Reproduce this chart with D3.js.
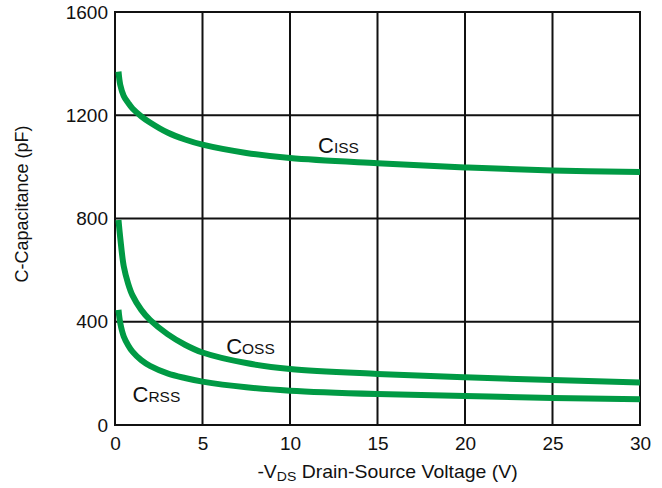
<!DOCTYPE html>
<html>
<head>
<meta charset="utf-8">
<script src="https://cdn.jsdelivr.net/npm/d3@7"></script>
<style>
  body { margin: 0; background: #fff; }
  svg text { font-family: "Liberation Sans", Arial, sans-serif; fill: #111; }
</style>
</head>
<body>
<div id="chart"></div>
<script>
// Voltage samples (V)
var VDS = [0.2, 0.3, 0.5, 0.75, 1, 1.5, 2, 3, 4, 5, 7.5, 10, 15, 20, 25, 30];
// Capacitances (pF)
var CISS = [1369, 1318, 1275, 1248, 1226, 1196, 1172, 1133, 1106, 1086, 1054, 1034, 1014, 998, 986, 980];
var COSS = [794, 725, 615, 548, 502, 446, 407, 352, 311, 281, 240, 217, 198, 185, 174, 165];
var CRSS = [446, 395, 343, 309, 284, 251, 229, 200, 182, 168, 146, 133, 120, 112, 105, 100];
// Ticks
var XTICKS = [0, 5, 10, 15, 20, 25, 30];
var YTICKS = [0, 400, 800, 1200, 1600];
// Curve labels: [main, sub, x, y]
var LABELS = [
  ['C', 'ISS', 11.6, 1054],
  ['C', 'OSS', 6.35, 275],
  ['C', 'RSS', 1.0, 89]
];

var W = 662, H = 488;
var margin = { top: 12, right: 22, bottom: 63, left: 115 };
var width = W - margin.left - margin.right,
    height = H - margin.top - margin.bottom;

var svg = d3.select('#chart').append('svg')
    .attr('width', W).attr('height', H)
  .append('g')
    .attr('transform', 'translate(' + margin.left + ',' + margin.top + ')');

var x = d3.scaleLinear().domain([0, 30]).range([0, width]);
var y = d3.scaleLinear().domain([0, 1600]).range([height, 0]);

// gridlines
svg.selectAll('.vgrid').data(XTICKS).enter().append('line')
  .attr('x1', d => x(d)).attr('x2', d => x(d))
  .attr('y1', -1).attr('y2', height + 1)
  .attr('stroke', '#111').attr('stroke-width', 2);

svg.selectAll('.hgrid').data(YTICKS).enter().append('line')
  .attr('y1', d => y(d)).attr('y2', d => y(d))
  .attr('x1', -1).attr('x2', width + 1)
  .attr('stroke', '#111').attr('stroke-width', 2);

// tick labels
var xAxis = svg.append('g')
  .attr('transform', 'translate(0,' + height + ')')
  .call(d3.axisBottom(x).tickValues(XTICKS).tickFormat(d3.format('d')).tickSize(0).tickPadding(12));
xAxis.select('.domain').remove();
xAxis.selectAll('text').style('font-size', '19px').attr('fill', '#111');

var yAxis = svg.append('g')
  .call(d3.axisLeft(y).tickValues(YTICKS).tickFormat(d3.format('d')).tickSize(0).tickPadding(7));
yAxis.select('.domain').remove();
yAxis.selectAll('text').style('font-size', '19px').attr('fill', '#111');

// axis titles
var xt = svg.append('g')
  .attr('transform', 'translate(' + (width / 2 + 10) + ',' + (height + 53) + ') scale(1.08,1)')
  .append('text')
  .attr('text-anchor', 'middle')
  .style('font-size', '18px');
xt.append('tspan').text('-V');
xt.append('tspan').text('DS').style('font-size', '13px').attr('dy', 3);
xt.append('tspan').text(' Drain-Source Voltage (V)').attr('dy', -3);

svg.append('text')
  .attr('transform', 'rotate(-90)')
  .attr('x', -(204 - margin.top)).attr('y', 28 - margin.left)
  .attr('text-anchor', 'middle')
  .style('font-size', '18px')
  .text('C-Capacitance (pF)');

// curves
var line = d3.line()
  .x(d => x(d[0]))
  .y(d => y(d[1]))
  .curve(d3.curveCatmullRom.alpha(0.5));

[CISS, COSS, CRSS].forEach(function (s) {
  svg.append('path')
    .datum(VDS.map((v, i) => [v, s[i]]))
    .attr('fill', 'none')
    .attr('stroke', '#009a44')
    .attr('stroke-width', 6)
    .attr('d', line);
});

// curve labels
LABELS.forEach(function (l) {
  var t = svg.append('text')
    .attr('x', x(l[2])).attr('y', y(l[3]))
    .style('font-size', '22px');
  t.append('tspan').text(l[0]);
  t.append('tspan').text(l[1]).style('font-size', '15.5px');
});
</script>
</body>
</html>
